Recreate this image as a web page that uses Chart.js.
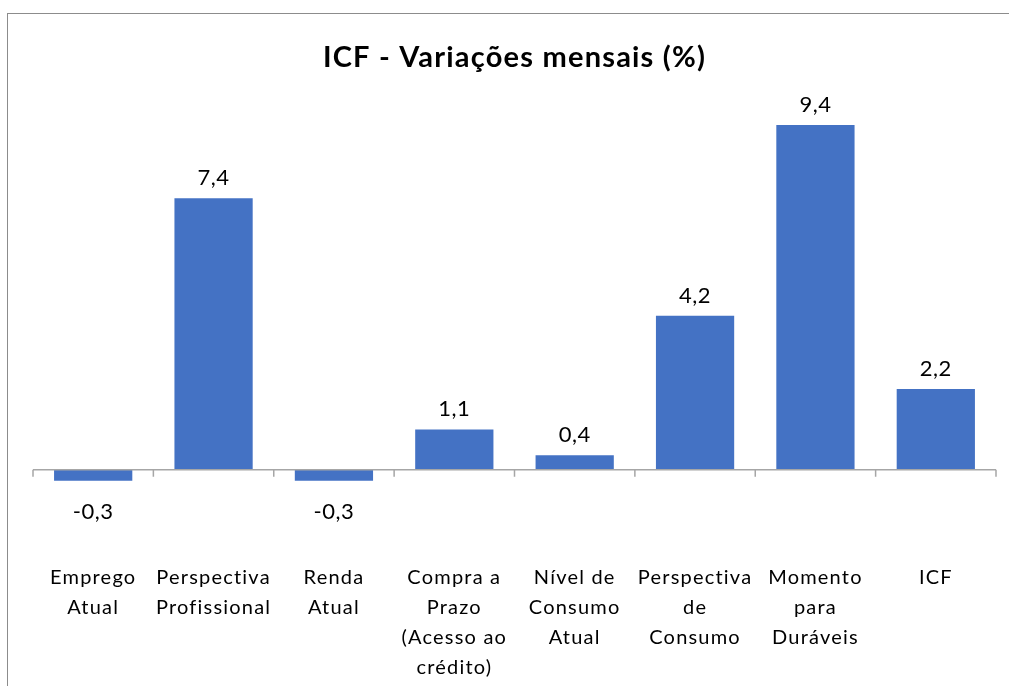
<!DOCTYPE html>
<html lang="pt">
<head>
<meta charset="utf-8">
<title>ICF - Variações mensais (%)</title>
<script src="https://cdn.jsdelivr.net/npm/chart.js@4.4.1/dist/chart.umd.min.js"></script>
<style>
  html, body { margin: 0; padding: 0; background: #fff; }
  #wrap { position: relative; width: 1009px; height: 686px; }
  #frame {
    position: absolute; left: 7px; top: 13px; right: -2px; bottom: -2px;
    border-top: 1.5px solid #8c8c8c; border-left: 1.5px solid #8c8c8c;
    pointer-events: none;
  }
</style>
</head>
<body>
<div id="wrap">
  <canvas id="chart" width="1009" height="686"></canvas>
  <div id="frame"></div>
</div>
<script>
const categories = [
  ["Emprego", "Atual"],
  ["Perspectiva", "Profissional"],
  ["Renda", "Atual"],
  ["Compra a", "Prazo", "(Acesso ao", "crédito)"],
  ["Nível de", "Consumo", "Atual"],
  ["Perspectiva", "de", "Consumo"],
  ["Momento", "para", "Duráveis"],
  ["ICF"]
];
const variations = [-0.3, 7.4, -0.3, 1.1, 0.4, 4.2, 9.4, 2.2];

const FONT = "Lato, 'Open Sans', sans-serif";

function fmt(v) {
  return v.toFixed(1).replace(".", ",");
}

// Excel-like spaced text for title and category labels
const spacing = {
  id: "spacing",
  beforeDraw(chart) {
    chart.ctx.letterSpacing = "1.2px";
  },
  beforeDatasetsDraw(chart) {
    chart.ctx.letterSpacing = "0px";
  }
};

// zero line + small category ticks, then the value labels
const zeroAxis = {
  id: "zeroAxis",
  afterDatasetsDraw(chart) {
    const { ctx, scales: { x, y }, chartArea } = chart;
    const y0 = y.getPixelForValue(0);
    const half = (x.getPixelForValue(1) - x.getPixelForValue(0)) / 2;
    ctx.save();
    ctx.strokeStyle = "#a6a6a6";
    ctx.lineWidth = 1.5;
    ctx.beginPath();
    ctx.moveTo(chartArea.left, y0);
    ctx.lineTo(chartArea.right, y0);
    for (let i = 0; i <= categories.length; i++) {
      const px = x.getPixelForValue(0) - half + i * half * 2;
      ctx.moveTo(px, y0);
      ctx.lineTo(px, y0 + 7);
    }
    ctx.stroke();

    ctx.fillStyle = "#000";
    ctx.font = "22px " + FONT;
    ctx.letterSpacing = "0.5px";
    ctx.textAlign = "center";
    ctx.textBaseline = "alphabetic";
    const meta = chart.getDatasetMeta(0);
    meta.data.forEach((bar, i) => {
      const v = variations[i];
      if (v >= 0) {
        ctx.fillText(fmt(v), bar.x, bar.y - 13);
      } else {
        ctx.fillText(fmt(v), bar.x, bar.y + 38);
      }
    });
    ctx.restore();
  }
};

new Chart(document.getElementById("chart"), {
  type: "bar",
  data: {
    labels: categories,
    datasets: [{
      data: variations,
      backgroundColor: "#4472c4",
      borderWidth: 0,
      categoryPercentage: 1,
      barPercentage: 0.65
    }]
  },
  options: {
    responsive: false,
    animation: false,
    layout: { padding: { left: 33, right: 13, top: 0, bottom: 0 } },
    plugins: {
      legend: { display: false },
      tooltip: { enabled: false },
      title: {
        display: true,
        text: "ICF - Variações mensais (%)",
        color: "#000",
        font: { family: FONT, size: 29, weight: "bold" },
        padding: { top: 40, bottom: 30 }
      }
    },
    scales: {
      x: {
        grid: { display: false },
        border: { display: false },
        ticks: {
          autoSkip: false,
          maxRotation: 0,
          padding: 3,
          color: "#000",
          font: { family: FONT, size: 20, lineHeight: "30px" }
        }
      },
      y: {
        display: false,
        min: -2.24,
        max: 9.95
      }
    }
  },
  plugins: [spacing, zeroAxis]
});
</script>
</body>
</html>
